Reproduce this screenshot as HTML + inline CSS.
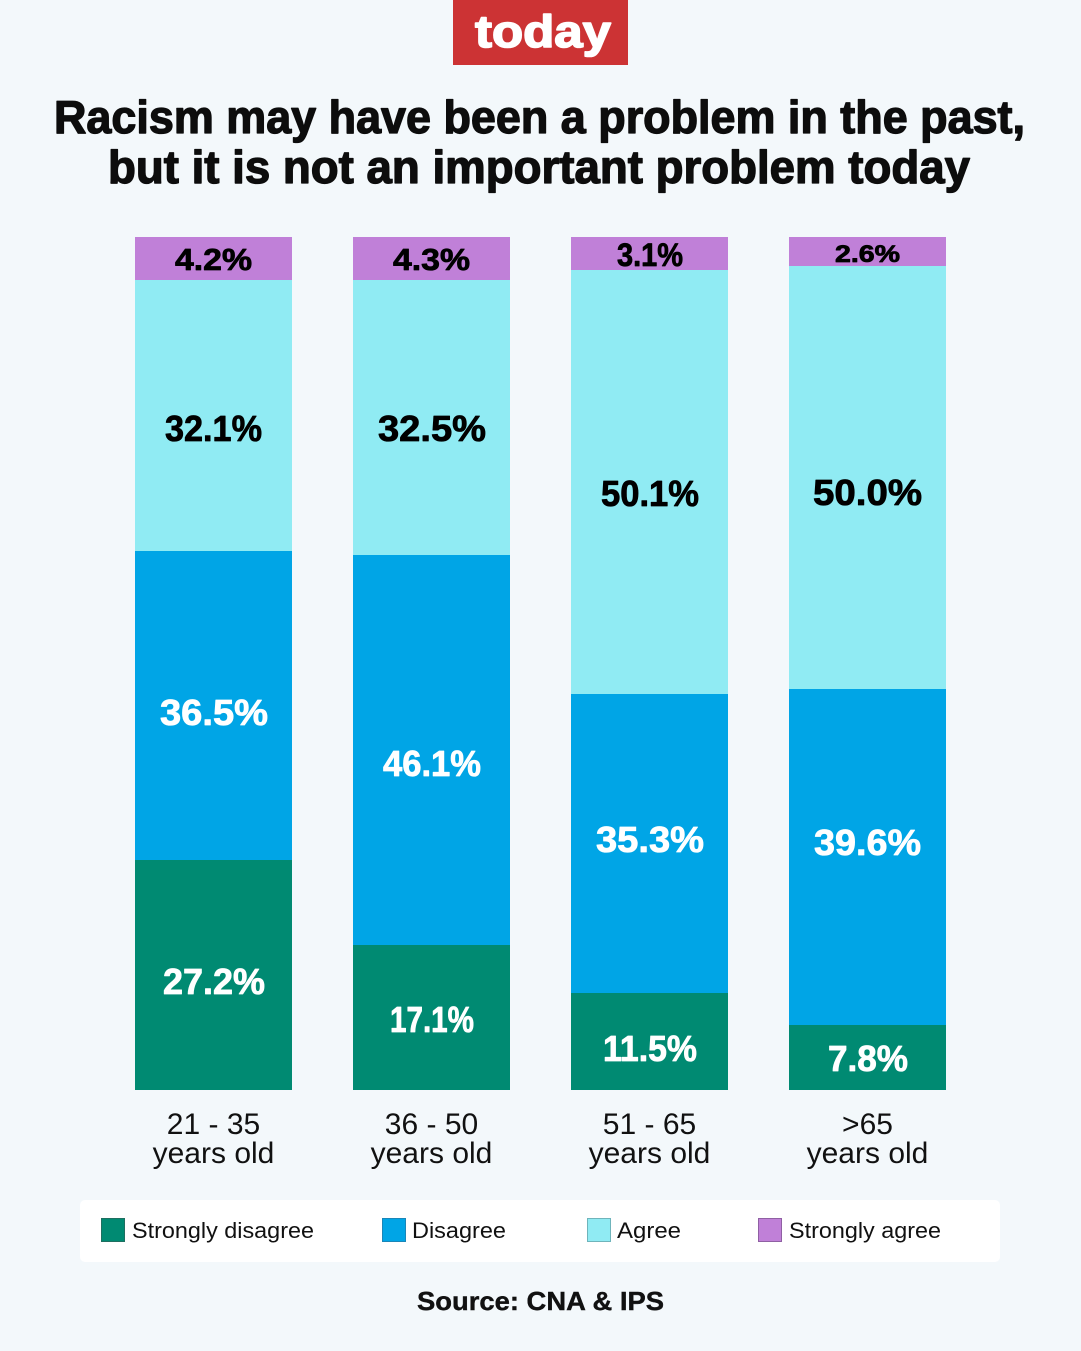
<!DOCTYPE html>
<html>
<head>
<meta charset="utf-8">
<style>
  html, body { margin: 0; padding: 0; background: #f3f8fb; }
  svg { display: block; }
  text { font-family: "Liberation Sans", sans-serif; }
</style>
</head>
<body>
<svg width="1081" height="1351" viewBox="0 0 1081 1351" xmlns="http://www.w3.org/2000/svg">
  <rect x="0" y="0" width="1081" height="1351" fill="#f3f8fb"/>

  <!-- logo -->
  <rect x="453" y="0" width="175" height="65" fill="#cc3334"/>
  <text x="475" y="47" font-size="45" font-weight="bold" fill="#ffffff" stroke="#ffffff" stroke-width="1.6" stroke-linejoin="round" textLength="136" lengthAdjust="spacingAndGlyphs">today</text>

  <!-- title -->
  <g stroke="#0d0d0d" stroke-width="1.3" stroke-linejoin="round">
  <text x="54" y="133" font-size="46" font-weight="bold" fill="#0d0d0d" textLength="971" lengthAdjust="spacingAndGlyphs">Racism may have been a problem in the past,</text>
  <text x="108" y="183" font-size="46" font-weight="bold" fill="#0d0d0d" textLength="862" lengthAdjust="spacingAndGlyphs">but it is not an important problem today</text>
  </g>

  <!-- bar 1 -->
  <rect x="135" y="237" width="157" height="43" fill="#c080d8"/>
  <rect x="135" y="280" width="157" height="271" fill="#90ebf3"/>
  <rect x="135" y="551" width="157" height="309" fill="#00a5e6"/>
  <rect x="135" y="860" width="157" height="230" fill="#008a72"/>
  <!-- bar 2 -->
  <rect x="353" y="237" width="157" height="43" fill="#c080d8"/>
  <rect x="353" y="280" width="157" height="275" fill="#90ebf3"/>
  <rect x="353" y="555" width="157" height="390" fill="#00a5e6"/>
  <rect x="353" y="945" width="157" height="145" fill="#008a72"/>
  <!-- bar 3 -->
  <rect x="571" y="237" width="157" height="33" fill="#c080d8"/>
  <rect x="571" y="270" width="157" height="424" fill="#90ebf3"/>
  <rect x="571" y="694" width="157" height="299" fill="#00a5e6"/>
  <rect x="571" y="993" width="157" height="97" fill="#008a72"/>
  <!-- bar 4 -->
  <rect x="789" y="237" width="157" height="29" fill="#c080d8"/>
  <rect x="789" y="266" width="157" height="423" fill="#90ebf3"/>
  <rect x="789" y="689" width="157" height="336" fill="#00a5e6"/>
  <rect x="789" y="1025" width="157" height="65" fill="#008a72"/>

  <!-- value labels -->
  <g font-weight="bold" stroke-width="0.8" stroke-linejoin="round">
    <text x="175" y="270" font-size="31" fill="#000" stroke="#000" textLength="77" lengthAdjust="spacingAndGlyphs">4.2%</text>
    <text x="165" y="441" font-size="36" fill="#000" stroke="#000" textLength="97" lengthAdjust="spacingAndGlyphs">32.1%</text>
    <text x="160" y="725" font-size="36" fill="#fff" stroke="#fff" textLength="108" lengthAdjust="spacingAndGlyphs">36.5%</text>
    <text x="163" y="994" font-size="36" fill="#fff" stroke="#fff" textLength="102" lengthAdjust="spacingAndGlyphs">27.2%</text>

    <text x="393" y="270" font-size="31" fill="#000" stroke="#000" textLength="77" lengthAdjust="spacingAndGlyphs">4.3%</text>
    <text x="378" y="441" font-size="36" fill="#000" stroke="#000" textLength="108" lengthAdjust="spacingAndGlyphs">32.5%</text>
    <text x="383" y="776" font-size="36" fill="#fff" stroke="#fff" textLength="98" lengthAdjust="spacingAndGlyphs">46.1%</text>
    <text x="390" y="1032" font-size="36" fill="#fff" stroke="#fff" textLength="84" lengthAdjust="spacingAndGlyphs">17.1%</text>

    <text x="617" y="266" font-size="32" fill="#000" stroke="#000" textLength="66" lengthAdjust="spacingAndGlyphs">3.1%</text>
    <text x="601" y="506" font-size="36" fill="#000" stroke="#000" textLength="98" lengthAdjust="spacingAndGlyphs">50.1%</text>
    <text x="596" y="852" font-size="36" fill="#fff" stroke="#fff" textLength="108" lengthAdjust="spacingAndGlyphs">35.3%</text>
    <text x="603" y="1061" font-size="36" fill="#fff" stroke="#fff" textLength="94" lengthAdjust="spacingAndGlyphs">11.5%</text>

    <text x="835" y="262" font-size="24" fill="#000" stroke="#000" textLength="65" lengthAdjust="spacingAndGlyphs">2.6%</text>
    <text x="813" y="505" font-size="36" fill="#000" stroke="#000" textLength="109" lengthAdjust="spacingAndGlyphs">50.0%</text>
    <text x="814" y="855" font-size="36" fill="#fff" stroke="#fff" textLength="107" lengthAdjust="spacingAndGlyphs">39.6%</text>
    <text x="828" y="1071" font-size="36" fill="#fff" stroke="#fff" textLength="80" lengthAdjust="spacingAndGlyphs">7.8%</text>
  </g>

  <!-- category labels -->
  <g font-size="30" fill="#111" text-anchor="middle">
    <text x="213.5" y="1134">21 - 35</text>
    <text x="213.5" y="1163">years old</text>
    <text x="431.5" y="1134">36 - 50</text>
    <text x="431.5" y="1163">years old</text>
    <text x="649.5" y="1134">51 - 65</text>
    <text x="649.5" y="1163">years old</text>
    <text x="867.5" y="1134">&gt;65</text>
    <text x="867.5" y="1163">years old</text>
  </g>

  <!-- legend -->
  <rect x="80" y="1200" width="920" height="62" rx="5" ry="5" fill="#ffffff"/>
  <rect x="101.5" y="1218.5" width="23" height="23" fill="#008a72" stroke="#1f6f60" stroke-width="1"/>
  <text x="132" y="1238" font-size="22" fill="#111" textLength="182" lengthAdjust="spacingAndGlyphs">Strongly disagree</text>
  <rect x="382.5" y="1218.5" width="23" height="23" fill="#00a5e6" stroke="#1a86b8" stroke-width="1"/>
  <text x="412" y="1238" font-size="22" fill="#111" textLength="94" lengthAdjust="spacingAndGlyphs">Disagree</text>
  <rect x="587.5" y="1218.5" width="23" height="23" fill="#90ebf3" stroke="#6fb4bb" stroke-width="1"/>
  <text x="617" y="1238" font-size="22" fill="#111" textLength="64" lengthAdjust="spacingAndGlyphs">Agree</text>
  <rect x="758.5" y="1218.5" width="23" height="23" fill="#c080d8" stroke="#8f60a3" stroke-width="1"/>
  <text x="789" y="1238" font-size="22" fill="#111" textLength="152" lengthAdjust="spacingAndGlyphs">Strongly agree</text>

  <!-- source -->
  <text x="417" y="1310" font-size="26" font-weight="bold" fill="#111" stroke="#111" stroke-width="0.4" textLength="247" lengthAdjust="spacingAndGlyphs">Source: CNA &amp; IPS</text>
</svg>
</body>
</html>
